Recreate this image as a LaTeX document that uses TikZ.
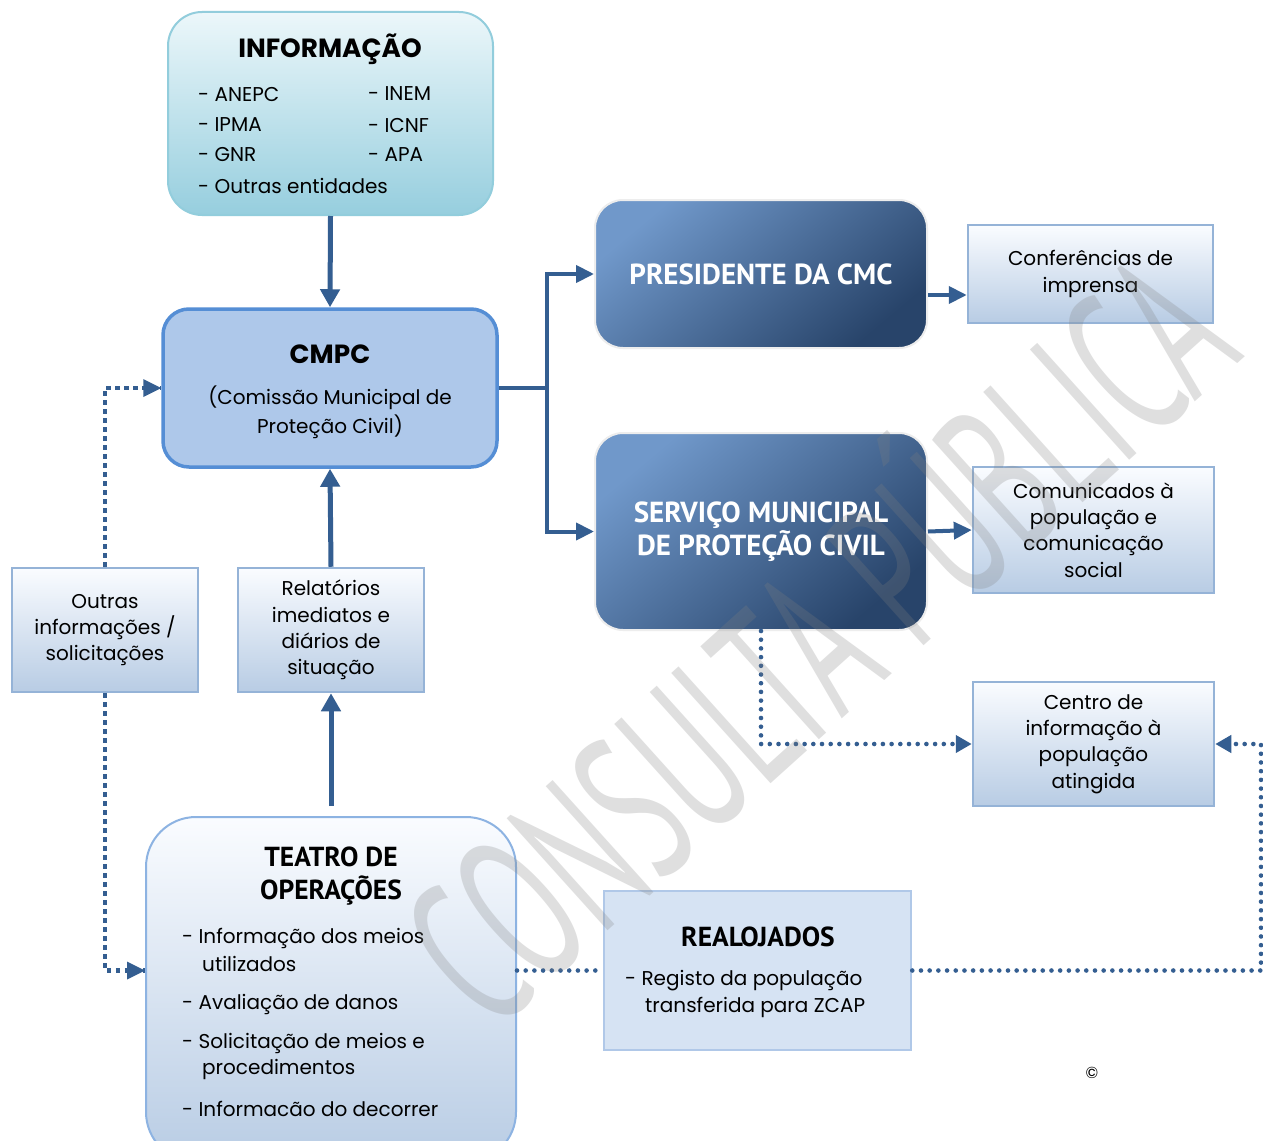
\documentclass[tikz,border=0pt]{standalone}
\usepackage{fontspec}
\setmainfont{Poppins}
\newfontfamily\headfont{PT Sans}
\newfontfamily\wmfont{PT Sans}
\usetikzlibrary{arrows.meta,calc}

\definecolor{linkc}{RGB}{52,94,145}
\definecolor{infotop}{RGB}{236,247,250}
\definecolor{infobot}{RGB}{150,206,222}
\definecolor{infodraw}{RGB}{146,205,220}
\definecolor{cmpcfill}{RGB}{174,200,234}
\definecolor{cmpcdraw}{RGB}{85,142,213}
\definecolor{darktop}{RGB}{112,152,202}
\definecolor{darkbot}{RGB}{40,68,106}
\definecolor{paletop}{RGB}{250,252,255}
\definecolor{palebot}{RGB}{184,204,228}
\definecolor{paledraw}{RGB}{149,179,215}
\definecolor{realfill}{RGB}{214,227,243}
\definecolor{realdraw}{RGB}{176,200,232}
\definecolor{teatrodraw}{RGB}{141,179,226}

\tikzset{
  body/.style={font=\fontsize{20}{26.3}\selectfont, text=black, inner sep=0pt},
  head/.style={font=\headfont\bfseries\fontsize{27.5}{33}\selectfont, text=black, inner sep=0pt},
  widehead/.style={font=\bfseries\fontsize{26.3}{30}\selectfont, text=black, inner sep=0pt},
  infobox/.style={rounded corners=34pt, top color=infotop, bottom color=infobot, draw=infodraw, line width=2pt},
  cmpcbox/.style={rounded corners=26pt, fill=cmpcfill, draw=cmpcdraw, line width=3.5pt},
  darkbox/.style={rounded corners=28pt, top color=darktop, bottom color=darkbot, shading angle=40, draw=black!7, line width=2pt,
    text=white, font=\headfont\bfseries\fontsize{29}{32.5}\selectfont, align=center},
  palebox/.style={top color=paletop, bottom color=palebot, draw=paledraw, line width=2.5pt,
    font=\fontsize{20}{26.3}\selectfont, align=center, inner sep=0pt},
  realbox/.style={fill=realfill, draw=realdraw, line width=2.5pt},
  teatrobox/.style={rounded corners=50pt, top color=paletop, bottom color=palebot, draw=teatrodraw, line width=2pt},
  solidlink/.style={draw=linkc, line width=5pt, -{Triangle[length=18pt,width=19pt]}},
  branchlink/.style={draw=linkc, line width=4pt},
  dotlink/.style={draw=linkc, line width=4.6pt, line cap=round, dash pattern=on 0pt off 8.7pt},
  squarelink/.style={draw=linkc, line width=4.5pt, dash pattern=on 4.5pt off 4.5pt},
  tip/.style={-{Triangle[length=16pt,width=17pt]}},
}

\begin{document}
\begin{tikzpicture}[x=1pt,y=-1pt]
\useasboundingbox (0,0) rectangle (1263,1140);
\clip (0,0) rectangle (1263,1140);
\fill[white] (0,0) rectangle (1263,1140);

% boxes
\node[infobox, minimum width=325pt, minimum height=203pt] (info) at (330.5,113.5) {};
\node[widehead] (infot) at (330,49) {INFORMAÇÃO};
\node[body, anchor=west] (i1) at (198,94) {- ANEPC};
\node[body, anchor=west] (i2) at (198,125) {- IPMA};
\node[body, anchor=west] (i3) at (198,155) {- GNR};
\node[body, anchor=west] (i4) at (198,186) {- Outras entidades};
\node[body, anchor=west] (i5) at (368,94) {- INEM};
\node[body, anchor=west] (i6) at (368,125) {- ICNF};
\node[body, anchor=west] (i7) at (368,155) {- APA};

\node[cmpcbox, minimum width=334pt, minimum height=158pt] (cmpc) at (330,388) {};
\node[widehead] (cmpct) at (330,354) {CMPC};
\node[body, align=center, font=\fontsize{20}{29}\selectfont] (cmpcb) at (330,412.5) {(Comissão Municipal de\\Proteção Civil)};

\node[darkbox, minimum width=332pt, minimum height=148pt] (pres) at (761,274) {PRESIDENTE DA CMC};
\node[darkbox, minimum width=332pt, minimum height=197pt] (serv) at (761,531.5) {SERVIÇO MUNICIPAL\\DE PROTEÇÃO CIVIL};

\node[palebox, minimum width=245pt, minimum height=98pt] (conf) at (1090.5,274) {Conferências de\\imprensa};
\node[palebox, minimum width=241pt, minimum height=126pt] (comu) at (1093.5,530) {Comunicados à\\população e\\comunicação\\social};
\node[palebox, minimum width=241pt, minimum height=124pt] (centro) at (1093.5,744) {Centro de\\informação à\\população\\atingida};

\node[palebox, minimum width=186pt, minimum height=124pt] (outras) at (105,630) {Outras\\informações /\\solicitações};
\node[palebox, minimum width=186pt, minimum height=124pt] (relat) at (331,630) {Relatórios\\imediatos e\\diários de\\situação};

\node[teatrobox, minimum width=370pt, minimum height=345pt] (teatro) at (331,989.5) {};
\node[head, align=center] (teatrot) at (331,876.5) {TEATRO DE\\OPERAÇÕES};
\node[body, anchor=west] (t1) at (182,938) {- Informação dos meios};
\node[body, anchor=west] (t2) at (202,964) {utilizados};
\node[body, anchor=west] (t3) at (182,1004) {- Avaliação de danos};
\node[body, anchor=west] (t4) at (182,1043) {- Solicitação de meios e};
\node[body, anchor=west] (t5) at (202,1069) {procedimentos};
\node[body, anchor=west] (t6) at (182,1109) {- Informacão do decorrer};

\node[realbox, minimum width=307pt, minimum height=159pt] (real) at (757.5,970.5) {};
\node[head] (realt) at (758,937) {REALOJADOS};
\node[body, anchor=west] (r1) at (625,981) {- Registo da população};
\node[body, anchor=west] (r2) at (645,1007) {transferida para ZCAP};

\node[font=\fontsize{16}{16}\selectfont, inner sep=0pt] (copy) at (1092,1073) {©};

% solid connectors
\draw[solidlink] (info.south) -- (cmpc.north);
\draw[solidlink] (relat.north) -- (cmpc.south);
\draw[solidlink, shorten <=10pt] (teatro.north) -- (relat.south);
\draw[branchlink] (cmpc.east) -- ++(48,0) coordinate (fork);
\draw[branchlink, -{Triangle[length=18pt,width=17pt]}] (fork) |- (pres.west);
\draw[branchlink, -{Triangle[length=18pt,width=17pt]}] (fork) |- (serv.west);
\draw[branchlink, -{Triangle[length=18pt,width=17pt]}] ([yshift=-21pt]pres.east) -- ([yshift=-21pt]pres.east -| conf.west);
\draw[branchlink, -{Triangle[length=18pt,width=17pt]}] (serv.east) -- (comu.west);

% dotted connectors
\draw[squarelink] (outras.north) |- (cmpc.west);
\draw[squarelink] (outras.south) |- (teatro.west |- real.west);
\fill[linkc] (cmpc.west) -- ++(-18,-9) -- ++(0,18) -- cycle;
\fill[linkc] (teatro.west |- real.west) -- ++(-18,-9) -- ++(0,18) -- cycle;

\draw[dotlink, tip] (serv.south) |- (centro.west);
\draw[dotlink] (teatro.east |- real.west) -- (real.west);
\coordinate (turn) at (1261,970.5);
\draw[dotlink, tip] (real.east) -- (turn) |- (centro.east);

% watermark
\node[rotate=42, text=gray, opacity=0.25, inner sep=0pt] (mark) at (808,628)
  {\scalebox{0.56}[1]{\wmfont\fontsize{212}{212}\selectfont CONSULTA PÚBLICA}};
\end{tikzpicture}
\end{document}
